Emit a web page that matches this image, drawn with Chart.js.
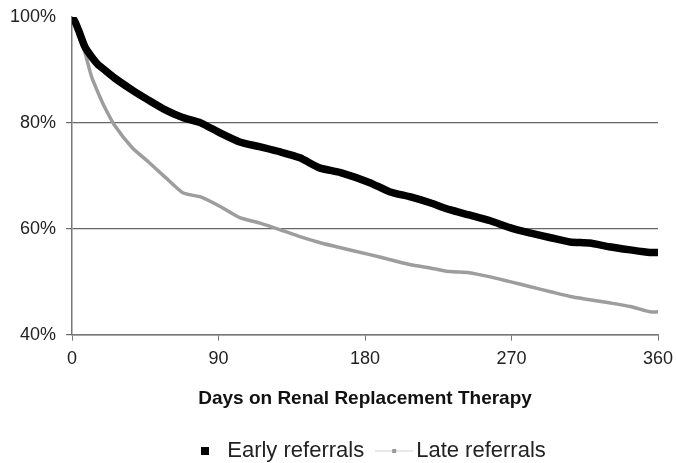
<!DOCTYPE html>
<html>
<head>
<meta charset="utf-8">
<script src="https://cdn.jsdelivr.net/npm/chart.js@4.4.1/dist/chart.umd.min.js"></script>
<style>
  body { margin: 0; background: #fff; }
  #wrap { width: 676px; height: 463px; }
</style>
</head>
<body>
<div id="wrap"><canvas id="survivalChart" width="676" height="463"></canvas></div>
<script>
// days
const days = [0, 2, 4, 8, 12, 16, 20, 26, 37, 47, 57, 68, 79, 91, 103, 115, 128, 140, 152, 165,
    183, 195, 208, 220, 232, 244, 257, 269, 281, 294, 306, 318, 330, 343, 355, 360];

// percent still on therapy
const earlyReferrals = [100, 99, 97.5, 94.3, 92.5, 91, 90, 88.5, 86.2, 84.3, 82.5, 81, 80, 78.1, 76.4, 75.5, 74.5, 73.4, 71.5, 70.6,
    68.7, 67, 66, 64.9, 63.6, 62.6, 61.5, 60.2, 59.2, 58.3, 57.5, 57.3, 56.6, 56, 55.5, 55.5];
const lateReferrals = [100, 98.5, 97, 93.2, 88.7, 85.7, 83, 79.6, 75.3, 72.6, 69.8, 66.8, 66, 64.2, 62.1, 61.1, 59.8, 58.5, 57.4, 56.4,
    55.1, 54.2, 53.2, 52.6, 51.9, 51.7, 50.9, 50, 49.1, 48.1, 47.2, 46.6, 46, 45.3, 44.3, 44.3];

const xTicks = [0, 90, 180, 270, 360];
const yTicks = [40, 60, 80, 100];

function toPoints(values) {
    return days.map((d, i) => ({ x: d, y: values[i] }));
}

// legend markers: black square, and a thin grey line with a dot
function makeMarker(kind) {
    const c = document.createElement('canvas');
    const g = c.getContext('2d');
    if (kind === 'early') {
        c.width = 8; c.height = 8;
        g.fillStyle = '#000';
        g.fillRect(0, 0, 8, 8);
    } else {
        c.width = 38; c.height = 6;
        g.fillStyle = '#d4d4d4';
        g.fillRect(0, 2.5, 38, 1);
        g.fillStyle = '#999';
        g.fillRect(17, 1, 4, 4);
    }
    return c;
}

// move the legend a little right and down, under the plot
const legendShift = {
    id: 'legendShift',
    afterLayout(chart) {
        const lg = chart.legend;
        const area = chart.chartArea;
        const dx = (area.left + area.right) / 2 + 5 - (lg.left + lg.right) / 2;
        lg.left += dx;
        lg.right += dx;
        lg.top += 11;
        lg.bottom += 11;
    }
};

const ctx = document.getElementById('survivalChart').getContext('2d');
new Chart(ctx, {
    type: 'line',
    data: {
        datasets: [{
            label: 'Early referrals',
            data: toPoints(earlyReferrals),
            borderColor: '#000',
            backgroundColor: '#000',
            borderWidth: 7.5,
            pointRadius: 0,
            pointStyle: makeMarker('early'),
            tension: 0.2
        }, {
            label: 'Late referrals',
            data: toPoints(lateReferrals),
            borderColor: '#9d9d9d',
            backgroundColor: '#9d9d9d',
            borderWidth: 3.5,
            pointRadius: 0,
            pointStyle: makeMarker('late'),
            tension: 0.2
        }]
    },
    options: {
        responsive: false,
        animation: false,
        layout: {
            padding: { left: 0, right: 18, top: 17, bottom: 2 }
        },
        scales: {
            x: {
                type: 'linear',
                min: 0,
                max: 360,
                afterBuildTicks: axis => { axis.ticks = xTicks.map(v => ({ value: v })); },
                afterFit: axis => { axis.paddingRight = 0; },
                ticks: {
                    color: '#222',
                    font: { family: 'Liberation Sans', size: 18 },
                    padding: 8
                },
                grid: {
                    drawOnChartArea: false,
                    drawTicks: true,
                    tickLength: 6,
                    color: '#777'
                },
                border: { color: '#777', width: 1.5 },
                title: {
                    display: true,
                    text: 'Days on Renal Replacement Therapy',
                    color: '#111',
                    font: { family: 'Liberation Sans', size: 19, weight: 'bold' },
                    padding: { top: 9, bottom: 0 }
                }
            },
            y: {
                min: 40,
                max: 100,
                afterBuildTicks: axis => { axis.ticks = yTicks.map(v => ({ value: v })); },
                afterFit: axis => { axis.paddingTop = 0; },
                ticks: {
                    color: '#222',
                    font: { family: 'Liberation Sans', size: 18 },
                    padding: 10,
                    callback: v => v + '%'
                },
                grid: {
                    color: c => c.tick && c.tick.value === 100 ? 'rgba(0,0,0,0)' : '#666',
                    lineWidth: 1.2,
                    tickLength: 6
                },
                border: { color: '#777', width: 1.5 }
            }
        },
        plugins: {
            legend: {
                position: 'bottom',
                labels: {
                    usePointStyle: true,
                    pointStyleWidth: 22,
                    color: '#222',
                    padding: 19,
                    font: { family: 'Liberation Sans', size: 22 }
                }
            },
            tooltip: { enabled: false }
        }
    },
    plugins: [legendShift]
});
</script>
</body>
</html>
